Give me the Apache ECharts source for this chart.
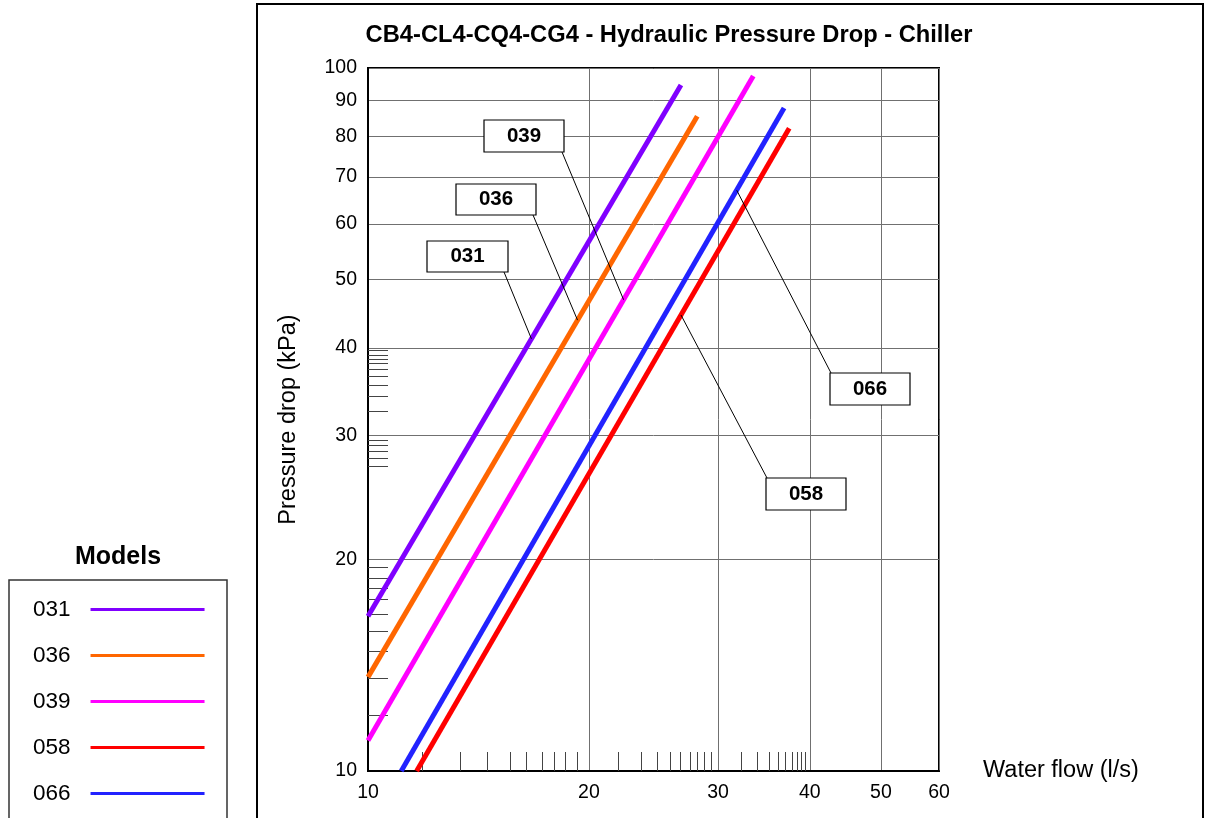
<!DOCTYPE html>
<html><head><meta charset="utf-8">
<script src="https://cdn.jsdelivr.net/npm/echarts@6/dist/echarts.min.js"></script>
<style>html,body{margin:0;padding:0;background:#fff}#c{width:1208px;height:818px}</style>
</head><body><div id="c"></div>
<script>
// ---- data ----
const models = ['031', '036', '039', '058', '066'];
const colors = ['#8000FF', '#FF6600', '#FF00FF', '#FF0000', '#2222FF'];
const s031 = [[10, 16.6], [26.7, 94.6]];
const s036 = [[10, 13.6], [28.1, 85.4]];
const s039 = [[10, 11.05], [33.5, 97.4]];
const s058 = [[11.65, 10], [37.5, 82.1]];
const s066 = [[11.1, 10], [36.9, 87.7]];
const seriesData = [s031, s036, s039, s058, s066];
const xTicks = [10, 20, 30, 40, 50, 60];
const yTicks = [10, 20, 30, 40, 50, 60, 70, 80, 90, 100];
const xMinor = [11.87, 13.36, 14.56, 15.61, 16.42, 17.26, 17.92, 18.58, 19.30,
  21.94, 23.59, 24.80, 25.83, 26.66, 27.45, 28.06, 28.71, 29.32,
  32.21, 33.93, 35.20, 36.24, 37.09, 37.80, 38.40, 38.92, 39.41];
const yMinor = [12.01, 13.56, 14.80, 15.82, 16.73, 17.53, 18.17, 18.82, 19.49,
  29.51, 29.07, 28.50, 27.88, 27.16,
  32.51, 34.15, 35.40, 36.38, 37.27, 38.01, 38.51, 39.02, 39.61];
// flow at which each label's leader line touches its curve
const labelFlow = [16.7, 19.3, 22.3, 26.7, 31.8];

const FONT = '"Liberation Sans", Arial, sans-serif';
const chart = echarts.init(document.getElementById('c'), null, {renderer: 'canvas'});

const series = models.map((m, i) => ({
  name: m, type: 'line', data: seriesData[i], symbol: 'none', silent: true,
  lineStyle: {color: colors[i], width: 5}, itemStyle: {color: colors[i]}, z: 3
}));

chart.setOption({
  animation: false,
  backgroundColor: '#fff',
  title: [
    {text: 'CB4-CL4-CQ4-CG4 - Hydraulic Pressure Drop - Chiller', left: 669, top: 23, textAlign: 'center', padding: 0,
      textStyle: {fontFamily: FONT, fontSize: 23.7, fontWeight: 'bold', color: '#000'}},
    {text: 'Models', left: 118, top: 545, textAlign: 'center', padding: 0,
      textStyle: {fontFamily: FONT, fontSize: 25, fontWeight: 'bold', color: '#000'}}
  ],
  legend: {
    orient: 'vertical', left: 28, top: 593, align: 'right', icon: 'rect',
    itemWidth: 114, itemHeight: 3, itemGap: 23, selectedMode: false,
    data: models,
    textStyle: {fontFamily: FONT, fontSize: 22.5, color: '#000', lineHeight: 22, padding: [0, 15, 0, 0]}
  },
  grid: {left: 368, top: 68, width: 571, height: 703, show: true, borderColor: '#000', borderWidth: 2, containLabel: false},
  xAxis: [
    {type: 'log', logBase: 10, min: 10, max: 60, position: 'bottom',
      name: 'Water flow (l/s)', nameLocation: 'end', nameGap: 44,
      nameTextStyle: {fontFamily: FONT, fontSize: 23.5, color: '#000', verticalAlign: 'middle', align: 'left'},
      axisLine: {show: true, lineStyle: {color: '#000', width: 2}},
      axisTick: {show: false, customValues: xTicks},
      axisLabel: {customValues: xTicks, fontFamily: FONT, fontSize: 19.5, color: '#000', margin: 12},
      splitLine: {show: true, lineStyle: {color: '#707070', width: 1}}
    },
    {type: 'log', logBase: 10, min: 10, max: 60, position: 'bottom', offset: 0,
      axisLine: {show: false}, axisLabel: {show: false}, splitLine: {show: false},
      axisTick: {show: true, inside: true, length: 19, customValues: xMinor, lineStyle: {color: '#444', width: 1}}
    }
  ],
  yAxis: [
    {type: 'log', logBase: 10, min: 10, max: 100, position: 'left',
      name: 'Pressure drop (kPa)', nameLocation: 'middle', nameGap: 67, nameRotate: 90,
      nameTextStyle: {fontFamily: FONT, fontSize: 23.5, color: '#000'},
      axisLine: {show: true, lineStyle: {color: '#000', width: 2}},
      axisTick: {show: false, customValues: yTicks},
      axisLabel: {customValues: yTicks, fontFamily: FONT, fontSize: 19.5, color: '#000', margin: 11},
      splitLine: {show: true, lineStyle: {color: '#707070', width: 1}}
    },
    {type: 'log', logBase: 10, min: 10, max: 100, position: 'left', offset: 0,
      axisLine: {show: false}, axisLabel: {show: false}, splitLine: {show: false},
      axisTick: {show: true, inside: true, length: 20, customValues: yMinor, lineStyle: {color: '#444', width: 1}}
    }
  ],
  series: series
});

// ---- annotation boxes with leader lines ----
const boxes = [ // [x, y, w, h, leader start x, leader start y]
  [427, 241, 81, 31, 504, 272],
  [456, 184, 80, 31, 533, 215],
  [484, 120, 80, 32, 562, 152],
  [766, 478, 80, 32, 767, 478],
  [830, 373, 80, 32, 831, 373]
];
function onCurve(d, f) {
  const [a, b] = d;
  const t = (Math.log10(f) - Math.log10(a[0])) / (Math.log10(b[0]) - Math.log10(a[0]));
  return Math.pow(10, Math.log10(a[1]) + t * (Math.log10(b[1]) - Math.log10(a[1])));
}
const g = [];
g.push({type: 'rect', shape: {x: 257, y: 4, width: 946, height: 840}, style: {fill: null, stroke: '#000', lineWidth: 2}, z: 0, silent: true});
g.push({type: 'rect', shape: {x: 9, y: 580, width: 218, height: 260}, style: {fill: null, stroke: '#333', lineWidth: 1.5}, z: 0, silent: true});
models.forEach((m, i) => {
  const f = labelFlow[i];
  const p = chart.convertToPixel({xAxisIndex: 0, yAxisIndex: 0}, [f, onCurve(seriesData[i], f)]);
  const b = boxes[i];
  g.push({type: 'line', shape: {x1: b[4], y1: b[5], x2: p[0], y2: p[1]}, style: {stroke: '#000', lineWidth: 1}, z: 10, silent: true});
  g.push({type: 'rect', shape: {x: b[0], y: b[1], width: b[2], height: b[3]}, style: {fill: '#fff', stroke: '#000', lineWidth: 1.2}, z: 11, silent: true});
  g.push({type: 'text', x: b[0] + b[2] / 2, y: b[1] + b[3] / 2, style: {text: m, fontFamily: FONT, fontSize: 20.5, fontWeight: 'bold', fill: '#000', align: 'center', verticalAlign: 'middle'}, z: 12, silent: true});
});
chart.setOption({graphic: g});
</script></body></html>
